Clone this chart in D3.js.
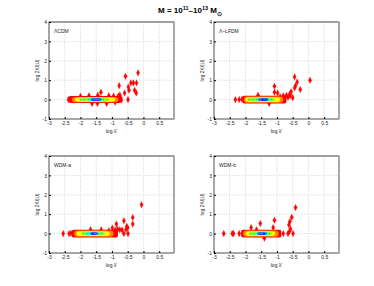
<!DOCTYPE html>
<html>
<head>
<meta charset="utf-8">
<script src="https://cdn.jsdelivr.net/npm/d3@7"></script>
<style>
  body { margin: 0; background: #fff; }
  svg text { font-family: "Liberation Sans", Arial, sans-serif; }
</style>
</head>
<body>
<div id="chart"></div>
<script>
// tick values
const xTicks = [-3, -2.5, -2, -1.5, -1, -0.5, 0, 0.5];
const yTicks = [-1, 0, 1, 2, 3, 4];

const panelNames = ["\u039BCDM", "\u039B\u2013LFDM", "WDM-a", "WDM-b"];
const yLabels = ["log 2K/|U|", "log 2K/|U|", "log 2K/|U|", "log 2K/|U|"];

// density levels, outer to inner: [x0, x1, half height]
const levelColors = ["#ff0000", "#ff8800", "#ffff00", "#88ff44", "#00ffff", "#0000ff", "#ff00ff"];
const lcdmLevels = [[-2.38, -0.7, 0.18], [-2.27, -0.8, 0.14], [-2.17, -0.9, 0.11], [-2.04, -1.1, 0.085], [-1.75, -1.3, 0.07], [-1.68, -1.33, 0.055], [-1.6, -1.38, 0.04]];
const lfdmLevels = [[-2.1, -0.7, 0.2], [-2.05, -0.8, 0.16], [-2.0, -0.9, 0.12], [-1.94, -1.06, 0.09], [-1.65, -1.22, 0.07], [-1.6, -1.27, 0.055], [-1.58, -1.47, 0.04]];
const wdmaLevels = [[-2.28, -0.81, 0.2], [-2.2, -0.95, 0.16], [-2.13, -1.07, 0.12], [-1.97, -1.23, 0.09], [-1.81, -1.39, 0.07], [-1.7, -1.44, 0.055], [-1.6, -1.47, 0.04]];
const wdmbLevels = [[-2.14, -0.86, 0.2], [-2.07, -0.95, 0.16], [-1.99, -1.06, 0.12], [-1.89, -1.16, 0.09], [-1.68, -1.27, 0.07], [-1.63, -1.32, 0.055], [-1.58, -1.42, 0.04]];

// outlying haloes: [log lambda', log 2K/|U|]
const lcdmPts = [[-2.38, 0], [-2.3, 0.03], [-2.22, -0.03], [-2.0, 0.17], [-1.73, 0.2], [-1.45, 0.22], [-1.35, 0.38],
  [-1.1, 0.2], [-0.95, 0.18], [-1.63, -0.2], [-1.46, -0.2], [-1.17, -0.2], [-0.9, -0.14],
  [-0.8, 0.18], [-0.75, 0.24], [-0.72, 0.1], [-0.7, -0.02], [-0.49, 0], [-0.6, 0.34], [-0.23, 0.34],
  [-0.46, 0.48], [-0.28, 0.48], [-0.48, 0.65], [-0.77, 0.72], [-0.4, 0.86], [-0.32, 0.86], [-0.22, 0.86],
  [-0.57, 1.2], [-0.17, 1.38]];
const lfdmPts = [[-2.32, 0], [-2.2, 0], [-2.11, 0.02], [-1.6, 0.22], [-1.25, -0.2], [-1.08, 0.69], [-1.08, 0.38],
  [-0.98, 0.34], [-0.9, 0.15], [-0.8, 0.2], [-0.7, 0.22], [-0.6, 0.28], [-0.55, 0.4], [-0.65, 0.12],
  [-0.5, 0.1], [-0.58, 0.2], [-0.44, 0.6], [-0.41, 0.71], [-0.26, 0.52], [-0.36, 0.91], [-0.44, 1.17], [0.05, 1.0]];
const wdmaPts = [[-2.55, 0], [-2.36, 0], [-2.3, 0.02], [-1.68, 0.2], [-1.34, 0.2], [-1.1, 0.15], [-0.99, 0.29],
  [-0.86, 0.49], [-0.9, 0.18], [-0.82, 0.22], [-0.75, 0.2], [-0.68, 0.18], [-0.62, 0], [-0.49, 0],
  [-0.53, 0.37], [-0.5, 0.3], [-0.55, 0.22], [-0.62, 0.66], [-0.34, 0.49], [-0.34, 0.83], [-0.06, 1.49]];
const wdmbPts = [[-2.69, 0], [-2.42, 0], [-2.38, 0], [-2.2, 0], [-1.82, 0.31], [-1.65, 0.2], [-1.53, 0.52],
  [-1.4, -0.24], [-1.12, 0.31], [-1.08, 0.69], [-0.93, 0], [-0.8, 0], [-0.65, 0], [-0.49, 0],
  [-0.6, 0.12], [-0.57, 0.24], [-0.62, 0.45], [-0.59, 0.62], [-0.53, 0.84], [-0.41, 1.34]];

const panels = [
  { name: panelNames[0], levels: lcdmLevels, pts: lcdmPts, left: 49, top: 22 },
  { name: panelNames[1], levels: lfdmLevels, pts: lfdmPts, left: 214, top: 22 },
  { name: panelNames[2], levels: wdmaLevels, pts: wdmaPts, left: 49, top: 156 },
  { name: panelNames[3], levels: wdmbLevels, pts: wdmbPts, left: 214, top: 156 }
];

const width = 374, height = 286;
const pw = 125, ph = 97;

const svg = d3.select("#chart").append("svg")
    .attr("width", width)
    .attr("height", height);

// title
const title = svg.append("text")
    .attr("x", 190)
    .attr("y", 13)
    .attr("text-anchor", "middle")
    .attr("font-size", 8)
    .attr("font-weight", "bold");
title.append("tspan").text("M = 10");
title.append("tspan").attr("font-size", 5.5).attr("dy", -3).text("11");
title.append("tspan").attr("dy", 3).text("\u201310");
title.append("tspan").attr("font-size", 5.5).attr("dy", -3).text("13");
title.append("tspan").attr("dy", 3).text(" M");
title.append("tspan").attr("font-size", 5.5).attr("dy", 2.5).text("\u2299");

panels.forEach((p, k) => drawPanel(p, k));

function drawPanel(p, k) {
  const x = d3.scaleLinear().domain([-3, 0.97]).range([p.left, p.left + pw]);
  const y = d3.scaleLinear().domain([-1, 4]).range([p.top + ph, p.top]);
  const g = svg.append("g");

  // grid
  g.append("g").selectAll("line").data(xTicks.slice(1)).join("line")
      .attr("x1", d => x(d)).attr("x2", d => x(d))
      .attr("y1", p.top).attr("y2", p.top + ph)
      .attr("stroke", "#bbb").attr("stroke-width", 0.6).attr("stroke-dasharray", "1,1.5");
  g.append("g").selectAll("line").data(yTicks.slice(1)).join("line")
      .attr("x1", p.left).attr("x2", p.left + pw)
      .attr("y1", d => y(d)).attr("y2", d => y(d))
      .attr("stroke", "#bbb").attr("stroke-width", 0.6).attr("stroke-dasharray", "1,1.5");

  // outlier diamonds (behind the density core)
  g.append("g").selectAll("path").data(p.pts).join("path")
      .attr("transform", d => `translate(${x(d[0])},${y(d[1])})`)
      .attr("d", "M0,-3.3L1.6,0L0,3.3L-1.6,0Z")
      .attr("fill", "#ff0000")
      .attr("stroke", "#ff2222")
      .attr("stroke-width", 0.3);

  // density blob
  g.append("g").selectAll("rect").data(p.levels).join("rect")
      .attr("x", d => x(d[0]))
      .attr("width", d => x(d[1]) - x(d[0]))
      .attr("y", d => y(d[2]))
      .attr("height", d => y(-d[2]) - y(d[2]))
      .attr("rx", (d, i) => i === 0 ? 2 : 3)
      .attr("fill", (d, i) => levelColors[i]);

  // centre line of green dots
  const lv = p.levels[3];
  g.append("g").selectAll("circle").data(d3.range(lv[0] + 0.05, lv[1], 0.12)).join("circle")
      .attr("cx", d => x(d)).attr("cy", y(0)).attr("r", 0.7)
      .attr("fill", "#00cc44");

  // frame
  g.append("rect")
      .attr("x", p.left).attr("y", p.top).attr("width", pw).attr("height", ph)
      .attr("fill", "none").attr("stroke", "#222").attr("stroke-width", 0.8);
  g.append("line")
      .attr("x1", p.left + pw).attr("x2", p.left + pw)
      .attr("y1", p.top).attr("y2", p.top + ph)
      .attr("stroke", "#aaa").attr("stroke-width", 1.5);

  // axes
  const xAxis = d3.axisBottom(x).tickValues(xTicks).tickSize(-2).tickPadding(2)
      .tickFormat(d => d3.format("")(d).replace("\u2212", "-"));
  const yAxis = d3.axisLeft(y).tickValues(yTicks).tickSize(-2).tickPadding(2)
      .tickFormat(d => d3.format("")(d).replace("\u2212", "-"));
  g.append("g").attr("transform", `translate(0,${p.top + ph})`).call(xAxis)
      .call(a => a.select(".domain").remove())
      .call(a => a.selectAll("text").attr("font-size", 5).attr("fill", "#222"));
  g.append("g").attr("transform", `translate(${p.left},0)`).call(yAxis)
      .call(a => a.select(".domain").remove())
      .call(a => a.selectAll("text").attr("font-size", 5).attr("fill", "#222"));

  // labels
  g.append("text")
      .attr("x", p.left + pw / 2).attr("y", p.top + ph + 14)
      .attr("text-anchor", "middle").attr("font-size", 5).attr("fill", "#222")
      .text("log \u03BB\u2032");
  g.append("text")
      .attr("transform", `translate(${p.left - 10},${p.top + ph / 2}) rotate(-90)`)
      .attr("text-anchor", "middle").attr("font-size", 5).attr("fill", "#222")
      .text(yLabels[k]);
  g.append("text")
      .attr("x", p.left + 5).attr("y", p.top + 11)
      .attr("font-size", 5).attr("fill", "#222")
      .text(p.name);
}
</script>
</body>
</html>
